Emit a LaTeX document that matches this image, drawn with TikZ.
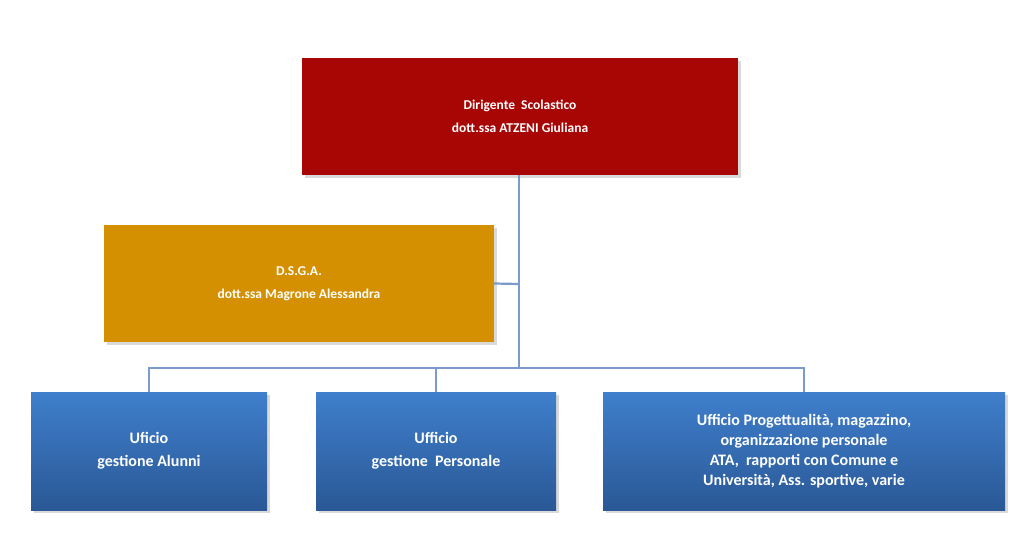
\documentclass[tikz,border=0pt]{standalone}
\usepackage{fontspec}
\setmainfont{Carlito}
\usetikzlibrary{shadows}
\definecolor{dred}{HTML}{A80505}
\definecolor{gold}{HTML}{D49000}
\definecolor{btop}{HTML}{3F7FCC}
\definecolor{bbot}{HTML}{2A5896}
\definecolor{lnk}{HTML}{7B9BCC}
\begin{document}
\begin{tikzpicture}[x=1pt,y=-1pt,
  box/.style={draw=none,text=white,font=\bfseries,align=center,inner sep=0pt,drop shadow={shadow xshift=3pt,shadow yshift=-3pt,opacity=0.3}},
  blue/.style={box,top color=btop,bottom color=bbot,font=\bfseries\fontsize{16}{23}\selectfont},
  lk/.style={draw=lnk,line width=2.2pt}]
\useasboundingbox (0,0) rectangle (1035,536);
\node[box,fill=dred,minimum width=436pt,minimum height=117pt,font=\bfseries\fontsize{13.5}{23}\selectfont] (ds) at (520,116.5) {Dirigente\ \ Scolastico\\dott.ssa ATZENI Giuliana};
\node[box,fill=gold,minimum width=390pt,minimum height=117pt,font=\bfseries\fontsize{13.5}{23}\selectfont] (dsga) at (299,283.5) {D.S.G.A.\\dott.ssa Magrone Alessandra};
\node[blue,minimum width=236pt,minimum height=118pt] (a) at (149,451) {Uficio\\gestione Alunni};
\node[blue,minimum width=240pt,minimum height=118pt] (p) at (436,451) {Ufficio\\gestione\ \ Personale};
\node[blue,minimum width=402pt,minimum height=118pt,font=\bfseries\fontsize{16}{20}\selectfont] (u) at (804,451) {Ufficio Progettualità, magazzino,\\organizzazione personale\\ATA,\ \ rapporti con Comune e\\Università, Ass. sportive, varie};
\coordinate (j) at (519,368);
\coordinate (m) at (519,284);
\draw[lk] (ds.south -| j) -- (j);
\draw[lk] (dsga.east) -- (m);
\draw[lk] (a.north) -- (a.north |- j) -- (u.north |- j) -- (u.north);
\draw[lk] (p.north) -- (p.north |- j);
\end{tikzpicture}
\end{document}
